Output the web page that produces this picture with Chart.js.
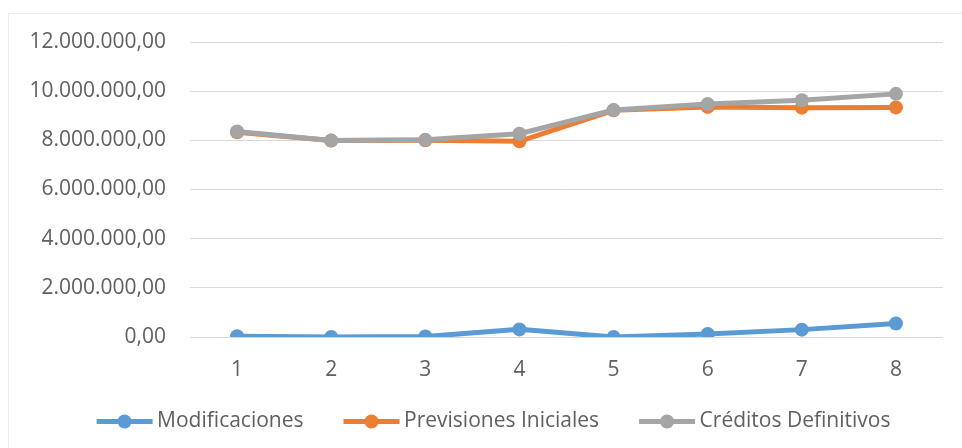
<!DOCTYPE html>
<html>
<head>
<meta charset="utf-8">
<script src="https://cdn.jsdelivr.net/npm/chart.js@4/dist/chart.umd.min.js"></script>
<style>
    html, body { margin: 0; padding: 0; background: #fff; }
    #wrap { position: relative; width: 962px; height: 448px; }
</style>
</head>
<body>
<div id="wrap"><canvas id="chart" width="962" height="448"></canvas></div>
<script>
/* Chart data */
const LABELS = ['1', '2', '3', '4', '5', '6', '7', '8'];
const MODIFICACIONES = [30000, 0, 20000, 310000, 0, 120000, 300000, 550000];
const PREVISIONES = [8330000, 7990000, 8000000, 7960000, 9220000, 9360000, 9330000, 9340000];
const CREDITOS = [8360000, 7990000, 8020000, 8270000, 9230000, 9480000, 9630000, 9890000];

const BLUE = '#5B9BD5';
const ORANGE = '#ED7D31';
const GRAY = '#A5A5A5';
const TEXT = '#606060';
const FONT = '"Open Sans", sans-serif';

// legend line: 56px long, drawn by hand over an invisible box
const LEGEND_BOX = 66;
const LEGEND_LINE = 56;

/* Spanish number format: 12.000.000,00 */
function formatEs(value) {
    const parts = Math.abs(value).toFixed(2).split('.');
    const intPart = parts[0].replace(/\B(?=(\d{3})+(?!\d))/g, '.');
    return (value < 0 ? '-' : '') + intPart + ',' + parts[1];
}

function dataset(label, data, color, order) {
    return {
        label: label,
        data: data,
        borderColor: color,
        backgroundColor: color,
        borderWidth: 5,
        pointRadius: 7,
        pointHoverRadius: 7,
        pointBackgroundColor: color,
        pointBorderWidth: 0,
        tension: 0,
        order: order
    };
}

/* Draws the faint frame and the line + dot of each legend entry */
const extras = {
    id: 'extras',
    afterDraw(chart) {
        const ctx = chart.ctx;
        ctx.save();
        ctx.strokeStyle = '#ececec';
        ctx.lineWidth = 1;
        ctx.beginPath();
        ctx.moveTo(8.5, 448);
        ctx.lineTo(8.5, 13.5);
        ctx.lineTo(962, 13.5);
        ctx.stroke();

        chart.legend.legendItems.forEach((item, i) => {
            const hb = chart.legend.legendHitBoxes[i];
            const color = chart.data.datasets[item.datasetIndex].borderColor;
            const x1 = hb.left + LEGEND_BOX + 6;
            const x0 = x1 - LEGEND_LINE;
            const y = hb.top + hb.height / 2;
            ctx.strokeStyle = color;
            ctx.lineWidth = 5;
            ctx.beginPath();
            ctx.moveTo(x0, y);
            ctx.lineTo(x1, y);
            ctx.stroke();
            ctx.fillStyle = color;
            ctx.beginPath();
            ctx.arc((x0 + x1) / 2, y, 7, 0, Math.PI * 2);
            ctx.fill();
        });
        ctx.restore();
    }
};

var ctx = document.getElementById('chart');
var chart = new Chart(ctx, {
    type: 'line',
    data: {
        labels: LABELS,
        datasets: [
            dataset('Modificaciones', MODIFICACIONES, BLUE, 2),
            dataset('Previsiones Iniciales', PREVISIONES, ORANGE, 1),
            dataset('Créditos Definitivos', CREDITOS, GRAY, 0)
        ]
    },
    options: {
        responsive: false,
        animation: false,
        layout: {
            padding: { top: 42, right: 19, bottom: 6, left: 28 }
        },
        plugins: {
            tooltip: { enabled: false },
            legend: {
                position: 'bottom',
                labels: {
                    boxWidth: LEGEND_BOX,
                    boxHeight: 5,
                    padding: 24,
                    color: TEXT,
                    font: { family: FONT, size: 21 },
                    sort: (a, b) => a.datasetIndex - b.datasetIndex,
                    generateLabels: function(chart) {
                        const items = Chart.defaults.plugins.legend.labels.generateLabels(chart);
                        items.forEach(it => {
                            it.lineWidth = 0;
                            it.fillStyle = 'rgba(0,0,0,0)';
                            it.strokeStyle = 'rgba(0,0,0,0)';
                        });
                        return items;
                    }
                }
            }
        },
        scales: {
            x: {
                offset: true,
                grid: { display: false, drawTicks: false },
                border: { display: false },
                ticks: {
                    padding: 20,
                    color: TEXT,
                    font: { family: FONT, size: 21 }
                },
                afterFit: function(scale) { scale.height = 50; }
            },
            y: {
                min: 0,
                max: 12000000,
                grid: { color: '#d9d9d9', lineWidth: 1, drawTicks: false },
                border: { display: false },
                ticks: {
                    stepSize: 2000000,
                    padding: 24,
                    color: TEXT,
                    font: { family: FONT, size: 21 },
                    callback: function(value) { return formatEs(value); }
                },
                afterFit: function(scale) { scale.width = 162; }
            }
        }
    },
    plugins: [extras]
});
</script>
</body>
</html>
